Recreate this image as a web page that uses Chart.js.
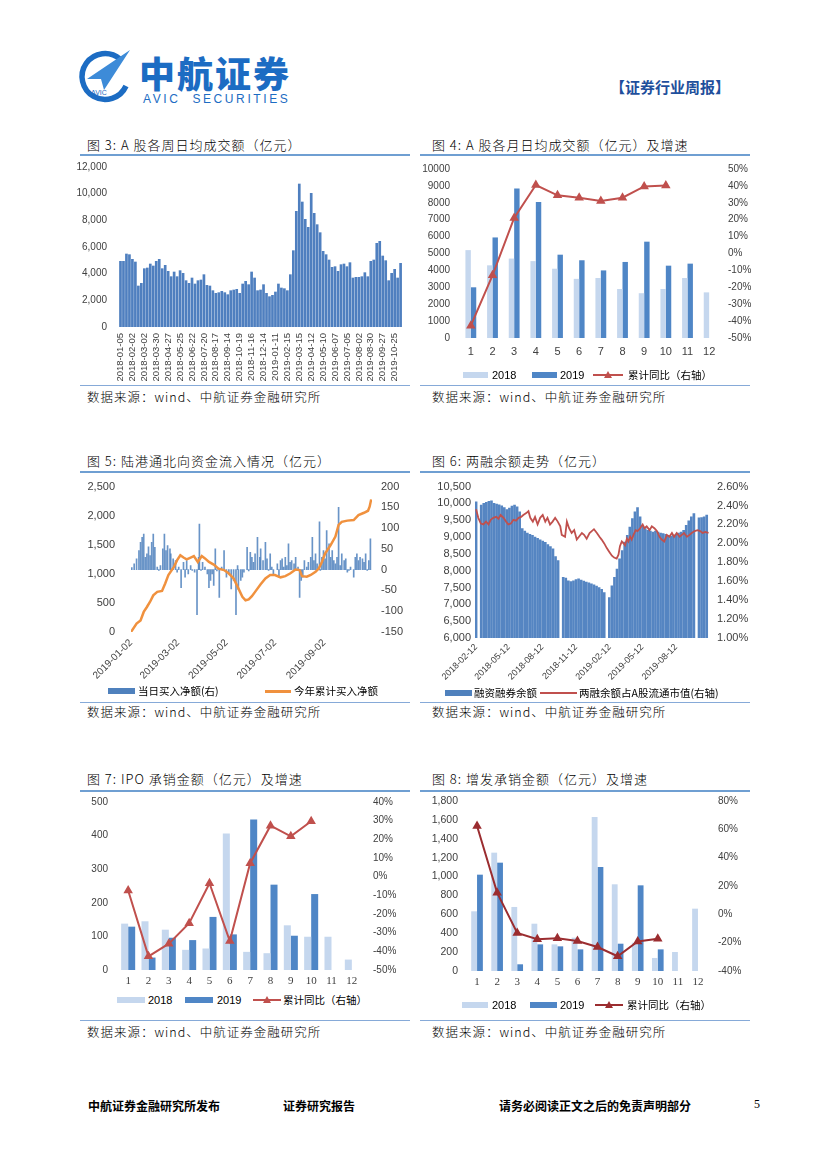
<!DOCTYPE html>
<html>
<head>
<meta charset="utf-8">
<script src="https://cdn.jsdelivr.net/npm/chart.js@4.4.0/dist/chart.umd.min.js"></script>
<style>
body { margin: 0; background: #fff; }
#page { position: relative; width: 827px; height: 1169px; overflow: hidden; font-family: "Noto Sans CJK SC", sans-serif; color: #000; }
.t { position: absolute; white-space: nowrap; line-height: 16px; }
.ttl { font-size: 13px; letter-spacing: 1px; font-weight: 300; }
.src { font-size: 12.5px; letter-spacing: 1px; font-weight: 300; }
.rule { position: absolute; height: 2px; background: #6f9fd2; }
.thin { position: absolute; height: 1px; background: #86aad8; }
.sw { position: absolute; height: 6px; }
.lg { position: absolute; white-space: nowrap; font-size: 10.5px; line-height: 12px; }
.num { font-family: "Liberation Sans", Arial, sans-serif; font-size: 11px; }
canvas { position: absolute; }
</style>
</head>
<body>
<div id="page">
  <!-- header -->
  <svg width="60" height="60" viewBox="0 0 60 60" style="position:absolute;left:74px;top:46px">
    <path d="M46 13 A23 23 0 1 0 52 40" fill="none" stroke="#1c6cc3" stroke-width="5.5"/>
    <path d="M13 33 L56 4 L30 44 L27 33 Z" fill="#3d8bd8"/>
    <path d="M27 33 L56 4 L22 38 Z" fill="#1c6cc3"/>
    <text x="17" y="49" font-size="7" font-family="Liberation Sans" fill="#1c6cc3">AVIC</text>
  </svg>
  <div class="t" style="left:139px;top:52px;font-size:36px;line-height:40px;font-weight:900;color:#1c6cc3;letter-spacing:2px">中航证券</div>
  <div class="t" style="left:143px;top:91px;font-family:'Liberation Sans',Arial,sans-serif;font-size:12px;color:#1c6cc3;letter-spacing:2.6px">AVIC&nbsp;&nbsp;SECURITIES</div>
  <div class="t" style="left:610px;top:79px;font-size:15px;font-weight:700;color:#1f4f9c">【证券行业周报】</div>

  <!-- titles -->
  <div class="t ttl" style="left:87px;top:137px">图 3: A 股各周日均成交额（亿元）</div>
  <div class="t ttl" style="left:432px;top:137px">图 4: A 股各月日均成交额（亿元）及增速</div>
  <div class="t ttl" style="left:87px;top:453px">图 5: 陆港通北向资金流入情况（亿元）</div>
  <div class="t ttl" style="left:432px;top:453px">图 6: 两融余额走势（亿元）</div>
  <div class="t ttl" style="left:87px;top:771px">图 7: IPO 承销金额（亿元）及增速</div>
  <div class="t ttl" style="left:432px;top:771px">图 8: 增发承销金额（亿元）及增速</div>

  <div class="rule" style="left:80px;top:154px;width:330px"></div>
  <div class="rule" style="left:420px;top:154px;width:330px"></div>
  <div class="rule" style="left:80px;top:471px;width:330px"></div>
  <div class="rule" style="left:420px;top:471px;width:330px"></div>
  <div class="rule" style="left:80px;top:790px;width:330px"></div>
  <div class="rule" style="left:420px;top:790px;width:330px"></div>

  <div class="thin" style="left:80px;top:385px;width:330px"></div>
  <div class="thin" style="left:420px;top:385px;width:330px"></div>
  <div class="thin" style="left:80px;top:702px;width:330px"></div>
  <div class="thin" style="left:420px;top:702px;width:330px"></div>
  <div class="thin" style="left:80px;top:1020px;width:330px"></div>
  <div class="thin" style="left:420px;top:1020px;width:330px"></div>

  <div class="t src" style="left:87px;top:389px">数据来源：wind、中航证券金融研究所</div>
  <div class="t src" style="left:432px;top:389px">数据来源：wind、中航证券金融研究所</div>
  <div class="t src" style="left:87px;top:704px">数据来源：wind、中航证券金融研究所</div>
  <div class="t src" style="left:432px;top:704px">数据来源：wind、中航证券金融研究所</div>
  <div class="t src" style="left:87px;top:1024px">数据来源：wind、中航证券金融研究所</div>
  <div class="t src" style="left:432px;top:1024px">数据来源：wind、中航证券金融研究所</div>

  <!-- charts -->
  <canvas id="c3" width="350" height="240" style="left:60px;top:150px"></canvas>
  <canvas id="c4" width="360" height="210" style="left:400px;top:150px"></canvas>
  <canvas id="c5" width="350" height="215" style="left:60px;top:470px"></canvas>
  <canvas id="c6" width="362" height="215" style="left:400px;top:470px"></canvas>
  <canvas id="c7" width="350" height="205" style="left:60px;top:785px"></canvas>
  <canvas id="c8" width="362" height="205" style="left:400px;top:785px"></canvas>

  <!-- legends -->
  <div class="sw" style="left:463px;top:372px;width:25px;background:#c5d7ee"></div>
  <div class="lg num" style="left:492px;top:369px">2018</div>
  <div class="sw" style="left:532px;top:372px;width:25px;background:#4f86c6"></div>
  <div class="lg num" style="left:560px;top:369px">2019</div>
  <svg width="30" height="10" style="position:absolute;left:593px;top:370px"><line x1="0" y1="5" x2="30" y2="5" stroke="#c0504d" stroke-width="2"/><polygon points="15,1 19,8 11,8" fill="#c0504d"/></svg>
  <div class="lg" style="left:628px;top:369px">累计同比（右轴）</div>

  <div class="sw" style="left:108px;top:688px;width:27px;background:#4f81bd"></div>
  <div class="lg" style="left:138px;top:685px">当日买入净额(右)</div>
  <div class="sw" style="left:265px;top:690px;width:26px;height:2.5px;background:#f0913e"></div>
  <div class="lg" style="left:294px;top:685px">今年累计买入净额</div>

  <div class="sw" style="left:445px;top:690px;width:27px;background:#4f81bd"></div>
  <div class="lg" style="left:474px;top:687px">融资融券余额</div>
  <div class="sw" style="left:540px;top:692px;width:37px;height:2px;background:#c0504d"></div>
  <div class="lg" style="left:579px;top:687px">两融余额占A股流通市值(右轴)</div>

  <div class="sw" style="left:117px;top:997px;width:28px;background:#c5d7ee"></div>
  <div class="lg num" style="left:148px;top:994px">2018</div>
  <div class="sw" style="left:185px;top:997px;width:28px;background:#4f86c6"></div>
  <div class="lg num" style="left:217px;top:994px">2019</div>
  <svg width="28" height="10" style="position:absolute;left:253px;top:995px"><line x1="0" y1="5" x2="28" y2="5" stroke="#c0504d" stroke-width="2"/><polygon points="14,1 18,8 10,8" fill="#c0504d"/></svg>
  <div class="lg" style="left:283px;top:994px">累计同比（右轴）</div>

  <div class="sw" style="left:462px;top:1002px;width:26px;background:#c5d7ee"></div>
  <div class="lg num" style="left:492px;top:999px">2018</div>
  <div class="sw" style="left:530px;top:1002px;width:27px;background:#4f86c6"></div>
  <div class="lg num" style="left:560px;top:999px">2019</div>
  <svg width="28" height="10" style="position:absolute;left:595px;top:1000px"><line x1="0" y1="5" x2="28" y2="5" stroke="#9b2d30" stroke-width="2"/><polygon points="14,1 18,8 10,8" fill="#9b2d30"/></svg>
  <div class="lg" style="left:627px;top:999px">累计同比（右轴）</div>

  <!-- footer -->
  <div class="t" style="left:88px;top:1098px;font-size:12px;font-weight:700">中航证券金融研究所发布</div>
  <div class="t" style="left:283px;top:1098px;font-size:12px;font-weight:700">证券研究报告</div>
  <div class="t" style="left:499px;top:1098px;font-size:12px;font-weight:700">请务必阅读正文之后的免责声明部分</div>
  <div class="t" style="left:754px;top:1096px;font-size:12px;font-family:'Liberation Serif',serif">5</div>
</div>

<script>
// 图3 A股各周日均成交额
var weekLabels = [
  '2018-01-05','2018-01-12','2018-01-19','2018-01-26','2018-02-02','2018-02-09','2018-02-14','2018-02-23',
  '2018-03-02','2018-03-09','2018-03-16','2018-03-23','2018-03-30','2018-04-04','2018-04-13','2018-04-20',
  '2018-04-27','2018-05-04','2018-05-11','2018-05-18','2018-05-25','2018-06-01','2018-06-08','2018-06-15',
  '2018-06-22','2018-06-29','2018-07-06','2018-07-13','2018-07-20','2018-07-27','2018-08-03','2018-08-10',
  '2018-08-17','2018-08-24','2018-08-31','2018-09-07','2018-09-14','2018-09-21','2018-09-28','2018-10-12',
  '2018-10-19','2018-10-26','2018-11-02','2018-11-09','2018-11-16','2018-11-23','2018-11-30','2018-12-07',
  '2018-12-14','2018-12-21','2018-12-28','2019-01-04','2019-01-11','2019-01-18','2019-01-25','2019-02-01',
  '2019-02-15','2019-02-22','2019-03-01','2019-03-08','2019-03-15','2019-03-22','2019-03-29','2019-04-04',
  '2019-04-12','2019-04-19','2019-04-26','2019-04-30','2019-05-10','2019-05-17','2019-05-24','2019-05-31',
  '2019-06-07','2019-06-14','2019-06-21','2019-06-28','2019-07-05','2019-07-12','2019-07-19','2019-07-26',
  '2019-08-02','2019-08-09','2019-08-16','2019-08-23','2019-08-30','2019-09-06','2019-09-12','2019-09-20',
  '2019-09-27','2019-09-30','2019-10-11','2019-10-18','2019-10-25','2019-11-01','2019-11-08'
];
var weekTurnover = [
  4950,4950,5500,5450,5100,4900,3100,3300,4400,4450,
  4750,4600,4950,5100,4400,4650,4200,3800,4150,3800,
  4250,4050,3500,3300,3700,3250,3500,3550,3950,3150,
  3100,2750,2550,2600,2700,2600,2450,2750,2800,2850,
  2550,3250,3450,3200,4150,3700,2750,2800,3200,2550,
  2300,2400,2650,3250,2950,2900,2750,3950,5750,8700,
  10750,9400,8100,7500,10050,8550,7700,7100,5700,5450,
  5050,4500,4550,4200,4700,4750,4550,4850,3700,3750,
  3750,3800,4100,3800,4950,5050,6300,6450,5350,5000,
  3500,4050,4350,3700,4800
];

// 图4 A股各月日均成交额及增速
var monthLabels = ['1','2','3','4','5','6','7','8','9','10','11','12'];
var turnover2018 = [5200,4300,4700,4550,4100,3500,3550,2900,2650,2900,3550,2700];
var turnover2019 = [3000,5950,8850,8050,4930,4600,4000,4500,5700,4280,4400,null];
var turnoverYoY = [-42.7,-12.9,21.0,40.5,34.4,33.0,31.0,33.0,39.7,40.3,null,null];

// 图5 陆港通北向资金 (x = 距 2019-01-02 的天数)
var flowTickDays = [0,59,120,181,243];
var flowTickLabels = ['2019-01-02','2019-03-02','2019-05-02','2019-07-02','2019-09-02'];
var cumDay = [0,7,12,16,20,24,28,33,39,43,47,54,58,62,66,70,75,79,84,89,
  93,98,104,110,117,123,129,135,140,144,148,152,156,163,169,175,181,188,194,200,
  207,212,215,221,226,232,236,240,244,251,257,261,265,272,280,286,293,298,300,302];
var cumValue = [0,145,200,345,430,520,630,690,705,835,980,1120,1235,1320,1280,1250,1280,1305,1205,1305,
  1265,1205,1160,1090,1065,1005,920,750,605,545,560,615,690,820,920,980,980,940,960,1005,
  1075,1065,960,950,980,1035,1090,1205,1350,1495,1640,1840,1895,1915,1925,2010,2050,2085,2155,2280];
var dailyDay = [1,4,7,10,12,14,16,18,20,22,24,26,28,30,33,35,37,40,42,44,
  46,49,50,53,56,58,60,63,66,68,70,72,75,77,80,83,85,86,88,90,
  93,96,98,100,102,104,106,108,111,114,117,120,123,126,129,132,134,135,138,140,
  142,146,148,150,152,154,156,159,162,163,166,169,171,173,175,177,179,184,186,188,
  190,192,194,196,198,200,202,205,207,210,212,214,216,218,221,223,226,228,230,232,
  234,237,238,240,242,244,246,249,251,253,255,257,259,261,263,265,268,270,272,274,
  276,280,282,284,286,288,291,293,295,297,299,301];
var dailyValue = [5,14,26,46,66,78,86,30,38,55,34,66,86,54,6,-2,10,50,86,46,
  58,50,38,26,22,-6,6,-43,18,-18,22,-10,10,-2,-6,-108,30,110,-2,18,
  6,-10,-43,-26,-10,-38,50,-3,-67,6,46,-18,-10,-46,-26,-108,10,-48,-26,-18,
  -6,54,-3,42,30,18,38,78,30,50,22,66,26,-2,38,6,-10,14,-18,22,
  26,6,30,10,62,18,22,14,30,6,-67,-26,-18,22,6,18,30,78,22,38,
  14,115,-2,30,46,26,94,62,30,46,22,14,30,150,10,38,22,26,-6,-2,
  6,-18,30,38,22,30,26,18,38,-2,22,74];

// 图6 两融余额走势 (x = 距 2018-02-12 的天数)
var marginTickDays = [0,89,181,273,365,454,546];
var marginTickLabels = ['2018-02-12','2018-05-12','2018-08-12','2018-11-12','2019-02-12','2019-05-12','2019-08-12'];
var marginDay = [0,14,21,28,35,42,49,56,63,70,77,84,91,98,105,112,119,126,133,140,
  147,154,161,168,175,182,189,196,203,210,217,224,238,245,252,259,266,273,280,287,
  294,301,308,315,322,329,336,343,350,364,371,378,385,392,399,406,413,420,427,434,
  441,448,455,462,469,476,483,490,497,504,511,518,525,532,539,546,553,560,567,574,
  581,588,595,609,616,623,630];
var marginBalance = [10050,9950,10000,10030,10060,10080,10000,9980,9960,9930,9880,9820,9860,9920,9950,9900,9750,9250,9180,9120,
  9080,9050,9000,8960,8920,8880,8840,8780,8720,8650,8420,8300,7800,7780,7700,7680,7700,7740,7760,7720,
  7690,7660,7640,7610,7580,7540,7500,7450,7350,7200,7550,7800,8050,8350,8600,8850,9050,9300,9550,9750,
  9880,9600,9350,9250,9200,9180,9150,9180,9150,9120,9100,9080,9050,9030,9050,9080,9120,9150,9200,9350,
  9480,9600,9700,9570,9580,9600,9650];
var ratioDay = [0,6,13,20,27,34,40,47,55,61,67,75,82,88,95,102,109,116,123,129,
  137,143,148,155,161,168,175,182,189,195,202,209,216,223,230,234,243,248,254,261,
  268,275,281,289,295,302,310,316,322,330,337,343,350,357,364,371,377,384,389,393,
  398,403,407,412,416,421,425,430,436,441,448,455,460,466,474,480,487,494,501,507,
  514,521,528,535,541,548,556,562,568,576,583,589,597,605,612,619,626,635];
var ratioPct = [2.36,2.27,2.21,2.20,2.23,2.20,2.25,2.27,2.28,2.26,2.30,2.27,2.23,2.20,2.21,2.25,2.24,2.27,2.28,2.30,
  2.32,2.34,2.27,2.23,2.28,2.20,2.27,2.30,2.23,2.27,2.20,2.23,2.27,2.23,2.18,2.09,2.07,2.23,2.16,2.11,
  2.14,2.04,2.07,2.11,2.09,2.05,2.11,2.13,2.15,2.11,2.07,2.04,2.00,1.95,1.91,1.87,1.85,1.84,1.88,1.97,
  2.02,2.00,1.98,2.05,2.02,2.07,2.04,2.09,2.14,2.13,2.16,2.20,2.16,2.18,2.14,2.18,2.16,2.13,2.07,2.04,
  2.02,2.09,2.07,2.11,2.07,2.11,2.07,2.09,2.11,2.07,2.09,2.11,2.13,2.14,2.13,2.11,2.12,2.11];

// 图7 IPO 承销金额
var ipo2018 = [138,145,120,60,64,406,54,50,133,99,99,31];
var ipo2019 = [129,37,96,89,158,106,448,254,102,226,null,null];
var ipoYoY = [-7.4,-42.7,-35.9,-24.9,-3.5,-34.5,7.2,27.3,21.6,29.7,null,null];

// 图8 增发承销金额
var seo2018 = [632,1253,678,501,282,353,1631,918,300,138,201,660];
var seo2019 = [1020,1147,71,282,261,229,1101,289,907,229,null,null];
var seoYoY = [62.4,15.3,-13.2,-17.6,-16.9,-18.8,-23.1,-29.6,-19.1,-17.2,null,null];

Chart.defaults.font.family = '"Liberation Sans", Arial, sans-serif';
Chart.defaults.font.size = 10;
Chart.defaults.color = '#404040';
Chart.defaults.animation = false;
Chart.defaults.responsive = false;
Chart.defaults.maintainAspectRatio = false;
Chart.defaults.plugins.legend.display = false;
Chart.defaults.plugins.tooltip.enabled = false;

function setW(w) { return function (a) { a.width = w; }; }
function setH(h) { return function (a) { a.height = h; }; }
function toXY(xs, ys) { return xs.map(function (x, i) { return { x: x, y: ys[i] }; }); }
function comma(v) { return v.toLocaleString('en-US'); }
function pct(v) { return v + '%'; }
var noGrid = { display: false, drawTicks: false };
var noBorder = { display: false };

// resize and move the canvas so the plot area lands where it sits in the reference
function place(chart, plotLeft, plotTop, plotW, plotH) {
  var a = chart.chartArea;
  var w = chart.width + plotW - (a.right - a.left);
  var h = chart.height + plotH - (a.bottom - a.top);
  chart.resize(Math.round(w), Math.round(h));
  a = chart.chartArea;
  chart.canvas.style.left = (plotLeft - a.left) + 'px';
  chart.canvas.style.top = (plotTop - a.top) + 'px';
}

// 图3
var c3 = new Chart(document.getElementById('c3'), {
  type: 'bar',
  data: {
    labels: weekLabels,
    datasets: [{ data: weekTurnover, backgroundColor: '#4f7fbf', barPercentage: 0.9, categoryPercentage: 1 }]
  },
  options: {
    scales: {
      x: {
        grid: noGrid, border: noBorder, afterFit: setH(61),
        ticks: {
          autoSkip: false, minRotation: 90, maxRotation: 90, padding: 6, font: { size: 9.5 },
          callback: function (v, i) { return i % 4 === 0 ? weekLabels[i] : ''; }
        }
      },
      y: {
        min: 0, max: 12000, grid: noGrid, border: noBorder, afterFit: setW(59),
        ticks: { stepSize: 2000, padding: 12, callback: comma }
      }
    }
  }
});
place(c3, 119, 167, 283, 159.7);

// 图4
var c4 = new Chart(document.getElementById('c4'), {
  type: 'bar',
  data: {
    labels: monthLabels,
    datasets: [
      { type: 'line', data: turnoverYoY, yAxisID: 'y1', order: 0, borderColor: '#c0504d', backgroundColor: '#c0504d',
        borderWidth: 2, pointStyle: 'triangle', pointRadius: 3.5, tension: 0 },
      { data: turnover2018, backgroundColor: '#c5d7ee', order: 1, categoryPercentage: 0.5, barPercentage: 1 },
      { data: turnover2019, backgroundColor: '#4f86c6', order: 1, categoryPercentage: 0.5, barPercentage: 1 }
    ]
  },
  options: {
    scales: {
      x: { grid: noGrid, border: noBorder, afterFit: setH(22), ticks: { padding: 7, font: { size: 11 } } },
      y: { min: 0, max: 10000, grid: noGrid, border: noBorder, afterFit: setW(60),
           ticks: { stepSize: 1000, padding: 10, callback: function (v) { return String(v); } } },
      y1: { position: 'right', min: -50, max: 50, grid: noGrid, border: noBorder, afterFit: setW(40),
            ticks: { stepSize: 10, padding: 8, callback: pct } }
    }
  }
});
place(c4, 460, 169.3, 260, 169);

// 图5
var c5 = new Chart(document.getElementById('c5'), {
  type: 'bar',
  data: {
    datasets: [
      { type: 'line', data: toXY(cumDay, cumValue), yAxisID: 'y', order: 0, borderColor: '#f0913e',
        borderWidth: 2.5, pointRadius: 0, tension: 0 },
      { data: toXY(dailyDay, dailyValue), yAxisID: 'y1', order: 1, backgroundColor: 'rgba(79,129,189,0.85)', barThickness: 1 }
    ]
  },
  options: {
    scales: {
      x: {
        type: 'linear', min: 0, max: 303, offset: false, grid: noGrid, border: noBorder, afterFit: setH(50),
        afterBuildTicks: function (s) { s.ticks = flowTickDays.map(function (v) { return { value: v }; }); },
        ticks: { autoSkip: false, minRotation: 45, maxRotation: 45, padding: 5, font: { size: 10 },
                 callback: function (v) { return flowTickLabels[flowTickDays.indexOf(v)]; } }
      },
      y: { min: 0, max: 2500, grid: noGrid, border: noBorder, afterFit: setW(71),
           ticks: { stepSize: 500, padding: 16, font: { size: 11 }, callback: comma } },
      y1: { position: 'right', min: -150, max: 200, grid: noGrid, border: noBorder, afterFit: setW(38),
            ticks: { stepSize: 50, padding: 9, font: { size: 11 } } }
    }
  }
});
place(c5, 130.7, 486.7, 241.3, 145);

// 图6
var c6 = new Chart(document.getElementById('c6'), {
  type: 'bar',
  data: {
    datasets: [
      { type: 'line', data: toXY(ratioDay, ratioPct), yAxisID: 'y1', order: 0, borderColor: '#c0504d',
        borderWidth: 1.8, pointRadius: 0, tension: 0 },
      { data: toXY(marginDay, marginBalance), yAxisID: 'y', order: 1, backgroundColor: '#5585c2', barThickness: 2 }
    ]
  },
  options: {
    scales: {
      x: {
        type: 'linear', min: -3, max: 639, offset: false, grid: noGrid, border: noBorder, afterFit: setH(46),
        afterBuildTicks: function (s) { s.ticks = marginTickDays.map(function (v) { return { value: v }; }); },
        ticks: { autoSkip: false, minRotation: 45, maxRotation: 45, padding: 4, font: { size: 9 },
                 callback: function (v) { return marginTickLabels[marginTickDays.indexOf(v)]; } }
      },
      y: { min: 6000, max: 10500, grid: noGrid, border: noBorder, afterFit: setW(75),
           ticks: { stepSize: 500, padding: 4, font: { size: 11 }, callback: comma } },
      y1: { position: 'right', min: 1.0, max: 2.6, grid: noGrid, border: noBorder, afterFit: setW(52),
            ticks: { stepSize: 0.2, padding: 7, font: { size: 11 }, callback: function (v) { return v.toFixed(2) + '%'; } } }
    }
  }
});
place(c6, 475, 486.7, 235, 151.6);

// 图7
var c7 = new Chart(document.getElementById('c7'), {
  type: 'bar',
  data: {
    labels: monthLabels,
    datasets: [
      { type: 'line', data: ipoYoY, yAxisID: 'y1', order: 0, borderColor: '#c0504d', backgroundColor: '#c0504d',
        borderWidth: 2, pointStyle: 'triangle', pointRadius: 3.5, tension: 0 },
      { data: ipo2018, backgroundColor: '#c5d7ee', order: 1, categoryPercentage: 0.69, barPercentage: 1 },
      { data: ipo2019, backgroundColor: '#4f86c6', order: 1, categoryPercentage: 0.69, barPercentage: 1 }
    ]
  },
  options: {
    scales: {
      x: { grid: noGrid, border: noBorder, afterFit: setH(19),
           ticks: { padding: 5, font: { size: 11, family: '"Liberation Serif", serif' } } },
      y: { min: 0, max: 500, grid: noGrid, border: noBorder, afterFit: setW(58),
           ticks: { stepSize: 100, padding: 10 } },
      y1: { position: 'right', min: -50, max: 40, grid: noGrid, border: noBorder, afterFit: setW(48),
            ticks: { stepSize: 10, padding: 11, callback: pct } }
    }
  }
});
place(c7, 118.2, 802.3, 243.7, 168.4);

// 图8
var c8 = new Chart(document.getElementById('c8'), {
  type: 'bar',
  data: {
    labels: monthLabels,
    datasets: [
      { type: 'line', data: seoYoY, yAxisID: 'y1', order: 0, borderColor: '#9b2d30', backgroundColor: '#9b2d30',
        borderWidth: 2, pointStyle: 'triangle', pointRadius: 3.5, tension: 0 },
      { data: seo2018, backgroundColor: '#c5d7ee', order: 1, categoryPercentage: 0.58, barPercentage: 1 },
      { data: seo2019, backgroundColor: '#4f86c6', order: 1, categoryPercentage: 0.58, barPercentage: 1 }
    ]
  },
  options: {
    scales: {
      x: { grid: noGrid, border: noBorder, afterFit: setH(19),
           ticks: { padding: 5, font: { size: 11, family: '"Liberation Serif", serif' } } },
      y: { min: 0, max: 1800, grid: noGrid, border: noBorder, afterFit: setW(67),
           ticks: { stepSize: 200, padding: 9, font: { size: 10.5 }, callback: comma } },
      y1: { position: 'right', min: -40, max: 80, grid: noGrid, border: noBorder, afterFit: setW(54),
            ticks: { stepSize: 20, padding: 10, callback: pct } }
    }
  }
});
place(c8, 467.3, 800.7, 241.1, 170);
</script>
</body>
</html>
